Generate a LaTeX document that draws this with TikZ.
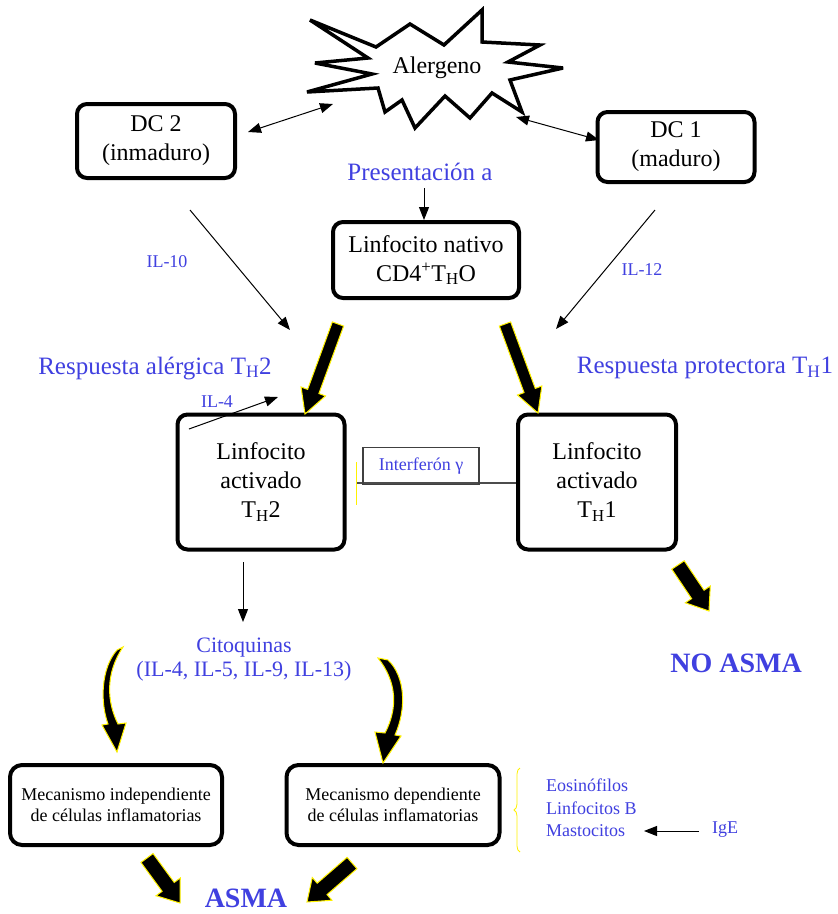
\documentclass[tikz,border=0pt]{standalone}
\usepackage{fontspec}
\setmainfont{Liberation Serif}
\usetikzlibrary{arrows.meta,calc,decorations.pathreplacing}
\definecolor{bl}{RGB}{64,64,224}
\newcommand{\fbig}{\fontsize{24}{29}\selectfont}
\newcommand{\fmid}{\fontsize{25}{29}\selectfont}
\newcommand{\fcit}{\fontsize{22}{24}\selectfont}
\newcommand{\fsmall}{\fontsize{18}{22}\selectfont}
\newcommand{\fbx}{\fontsize{18}{21}\selectfont}
\newcommand{\fcells}{\fontsize{18}{22.5}\selectfont}
\newcommand{\fasma}{\fontsize{28}{32}\selectfont\bfseries}
% block arrow: name, start, end, shaft half width, head half width, head length
\newcommand{\blockarr}[6]{%
  \coordinate (#1s) at #2;
  \coordinate (#1e) at #3;
  \coordinate (#1h) at ($(#1e)!#6!(#1s)$);
  \filldraw[blockstyle]
    ($(#1s)!#4!90:(#1e)$) -- ($(#1h)!#4!-90:(#1s)$) -- ($(#1h)!#5!-90:(#1s)$) -- (#1e)
    -- ($(#1h)!#5!90:(#1s)$) -- ($(#1h)!#4!90:(#1s)$) -- ($(#1s)!#4!-90:(#1e)$) -- cycle;}
\begin{document}
\begin{tikzpicture}[x=1pt,y=-1pt,
  bx/.style={draw, line width=4pt, rounded corners=10pt, align=center, inner sep=0pt, font=\fbig},
  sbx/.style={draw, line width=4pt, rounded corners=12pt, align=center, inner sep=0pt, font=\fbx},
  bluet/.style={text=bl, inner sep=0pt},
  thinarr/.style={-{Triangle[length=13pt,width=10pt]}, line width=1pt},
  dblarr/.style={{Triangle[length=13pt,width=10pt]}-{Triangle[length=13pt,width=10pt]}, line width=1pt},
  blockstyle/.style={fill=black, draw=yellow, line width=1pt, line join=miter}]
\useasboundingbox (0,0) rectangle (838,914);
\fill[white] (0,0) rectangle (838,914);

% star
\draw[line width=3.5pt, line join=miter, miter limit=6, fill=white]
  (310,20) -- (376,47) -- (410,24) -- (444,45) -- (482,10) -- (482,42) -- (540,45)
  -- (508,62) -- (563,68) -- (510,80) -- (522,112) -- (492,93) -- (470,118) -- (445,96)
  -- (415,128) -- (402,100) -- (385,112) -- (378,88) -- (307,92) -- (372,74) -- (315,63)
  -- (368,58) -- cycle;
\node[font=\fbig, inner sep=0pt] (alerg) at (437,68) {Alergeno};

% boxes
\node[bx, minimum width=158pt, minimum height=74pt] (dc2) at (156,141) {DC 2\\(inmaduro)};
\node[bx, minimum width=157pt, minimum height=70pt] (dc1) at (676,147) {DC 1\\(maduro)};
\node[bx, minimum width=186pt, minimum height=76pt] (nat) at (426,260) {Linfocito nativo\\CD4\textsuperscript{+}T\textsubscript{H}O};
\node[bx, minimum width=167pt, minimum height=135pt] (th2) at (261,482) {Linfocito\\activado\\T\textsubscript{H}2};
\node[bx, minimum width=158pt, minimum height=135pt] (th1) at (597,482) {Linfocito\\activado\\T\textsubscript{H}1};
\node[sbx, minimum width=212pt, minimum height=80pt] (ind) at (116,805) {Mecanismo independiente\\de células inflamatorias};
\node[sbx, minimum width=213pt, minimum height=80pt] (dep) at (393,805) {Mecanismo dependiente\\de células inflamatorias};

% double arrows to the allergen
\coordinate (a2a) at (248,132); \coordinate (a2b) at (333,104);
\draw[dblarr] (a2a) -- (a2b);
\coordinate (a1a) at (516,117); \coordinate (a1b) at (599,140);
\draw[dblarr] (a1a) -- (a1b);

% presentation
\node[bluet, font=\fmid] (pres) at (420,172) {Presentación a};
\coordinate (ps) at (424,188);
\draw[thinarr] (ps) -- (ps |- nat.north);

% IL-10 and IL-12
\coordinate (il10a) at (190,210); \coordinate (il10b) at (290,330);
\draw[thinarr] (il10a) -- (il10b);
\node[bluet, font=\fsmall] (il10) at (167,262) {IL-10};
\coordinate (il12a) at (655,210); \coordinate (il12b) at (556,329);
\draw[thinarr] (il12a) -- (il12b);
\node[bluet, font=\fsmall] (il12) at (642,270) {IL-12};

% thick arrows
\blockarr{bA}{(338,324)}{(305,414)}{6pt}{13pt}{24pt}
\blockarr{bB}{(505,324)}{(538,413)}{6pt}{13pt}{24pt}

\node[bluet, font=\fmid] (r2) at (155,368) {Respuesta alérgica T\textsubscript{H}2};
\node[bluet, font=\fmid] (r1) at (705,368) {Respuesta protectora T\textsubscript{H}1};

% IL-4
\coordinate (il4a) at (189,429); \coordinate (il4b) at (278,397);
\draw[thinarr] (il4a) -- (il4b);
\node[bluet, font=\fsmall] (il4) at (217,402) {IL-4};

% interferon inhibition
\coordinate (inh) at (356,483);
\draw[black!70, line width=1.2pt] (th1.west |- inh) -- (inh);
\draw[yellow, line width=1pt] ($(inh)+(0,-21)$) -- ($(inh)+(0,22)$);
\node[draw=black!75, line width=1.2pt, minimum width=116pt, minimum height=37pt, inner sep=0pt, text=bl, font=\fsmall] (ifn) at (421,466) {Interferón γ};

% TH2 -> cytokines
\node[bluet, font=\fcit, align=center] (cit) at (244,660) {Citoquinas\\(IL-4, IL-5, IL-9, IL-13)};
\coordinate (t2a) at (243,562); \coordinate (t2b) at (243,622);
\draw[thinarr] (t2a) -- (t2b);

% curved arrows
\filldraw[blockstyle] (123,647) -- (117,650) .. controls (101,668) and (100,702) .. (108,724)
  -- (102,725) -- (117,752) -- (126,723) -- (118,724) .. controls (107,702) and (105,674) .. (123,647) -- cycle;
\filldraw[blockstyle] (378,658) -- (388,660) .. controls (405,676) and (407,708) .. (395,735)
  -- (401,736) -- (383,763) -- (375,732) -- (385,733) .. controls (398,708) and (397,682) .. (378,658) -- cycle;

% NO ASMA
\blockarr{bC}{(678,565)}{(709,611)}{7.5pt}{15pt}{20pt}
\node[text=bl, font=\fasma, anchor=base, inner sep=0pt] (noasma) at (736,672) {NO ASMA};

% ASMA
\blockarr{bD}{(147,858)}{(180,903)}{7.5pt}{15pt}{20pt}
\blockarr{bE}{(352,863)}{(307,902)}{7.5pt}{15pt}{20pt}
\node[text=bl, font=\fasma, anchor=base, inner sep=0pt] (asma) at (246,907) {ASMA};

% cells
\draw[yellow, line width=0.8pt, decorate, decoration={brace, amplitude=6pt}] (520,852) -- (520,768);
\node[bluet, font=\fcells, align=left, anchor=west] (cells) at (546,808) {Eosinófilos\\Linfocitos B\\Mastocitos};
\node[bluet, font=\fsmall] (ige) at (725,830) {IgE};
\coordinate (igea) at (699,831); \coordinate (igeb) at (644,831);
\draw[thinarr] (igea) -- (igeb);
\end{tikzpicture}
\end{document}
